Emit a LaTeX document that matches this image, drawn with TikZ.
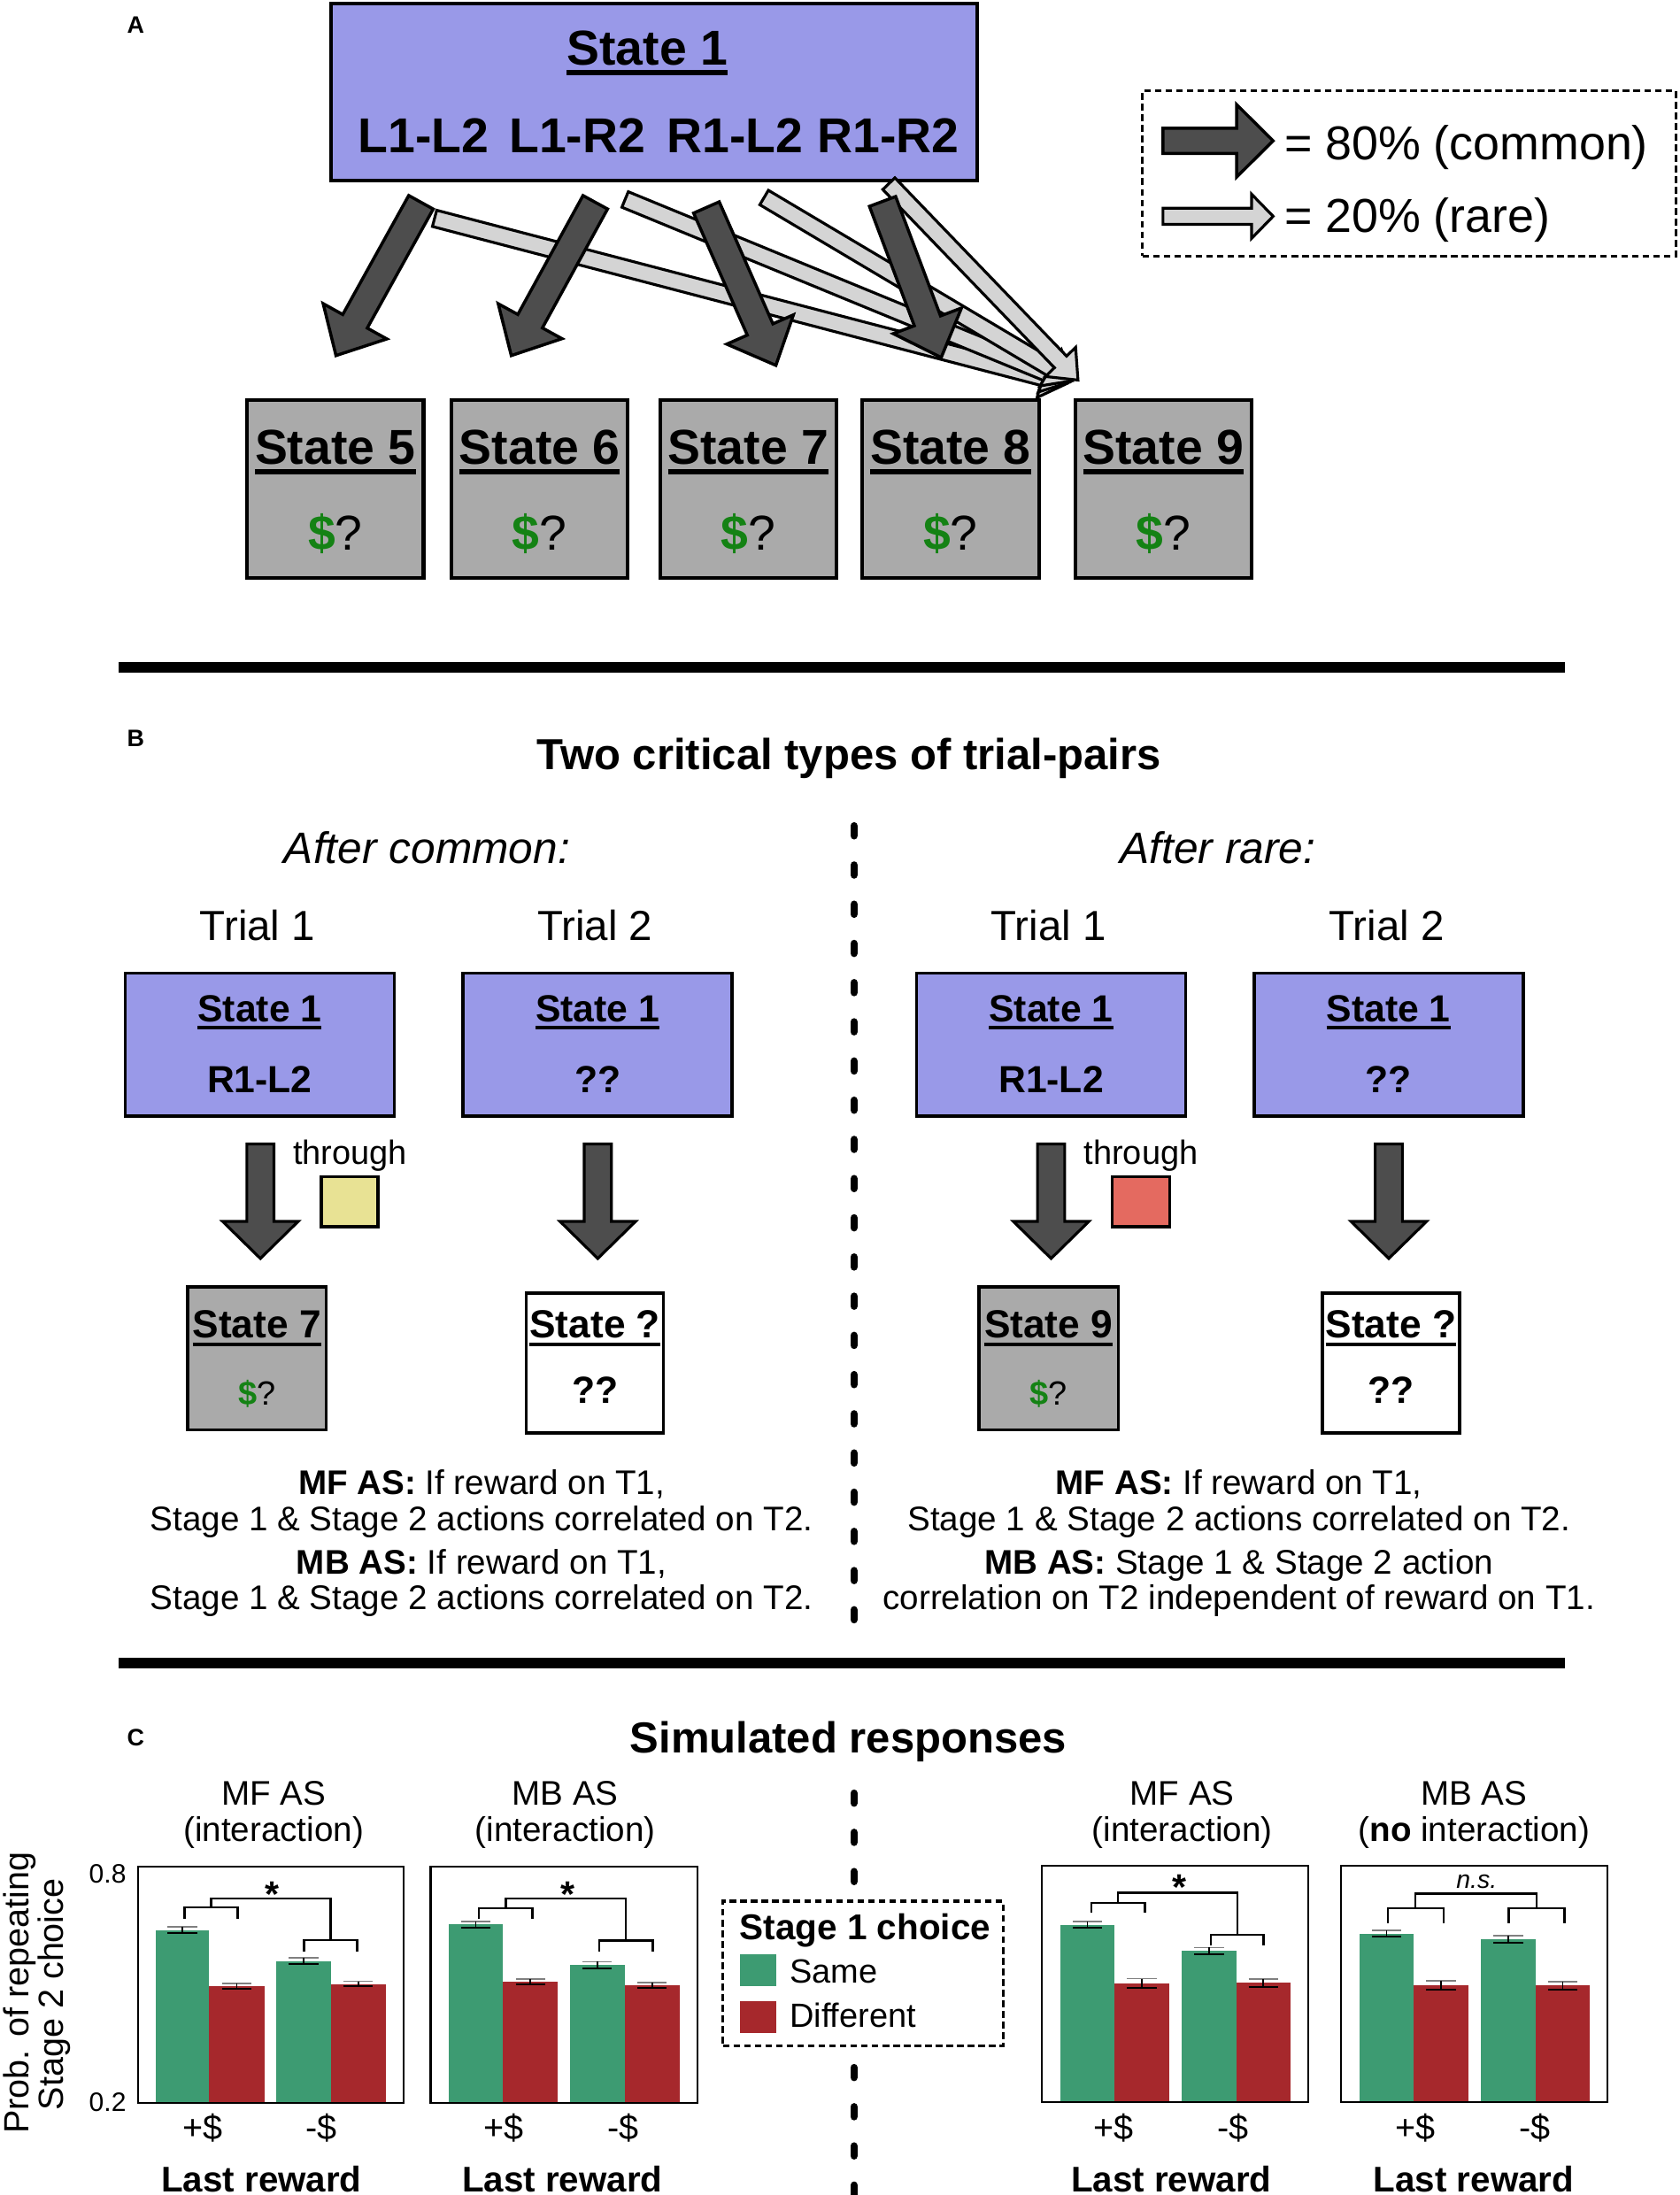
\documentclass[tikz,border=0pt]{standalone}
\usepackage{fontspec}
\setmainfont{Liberation Sans}
\usetikzlibrary{calc}
\definecolor{purp}{RGB}{153,153,232}
\definecolor{boxgray}{RGB}{170,170,170}
\definecolor{darkarr}{RGB}{77,77,77}
\definecolor{lightarr}{RGB}{212,212,212}
\definecolor{dollar}{RGB}{20,130,20}
\definecolor{ylw}{RGB}{232,226,148}
\definecolor{redsq}{RGB}{228,106,96}
\definecolor{bgreen}{RGB}{61,155,114}
\definecolor{bred}{RGB}{166,40,44}
\newcommand{\fsz}[1]{\fontsize{#1}{#1}\selectfont}
\newcommand{\tul}[1]{\setbox0=\hbox{#1}\leavevmode\rlap{\rule[-0.21em]{\wd0}{0.1em}}\box0}
\newcommand{\blkarrow}[6]{%
  \coordinate (bkn) at ($(#2)!#5!(#1)$);
  \draw[#6] ($(#1)!#3!90:(#2)$) -- ($(bkn)!#3!90:(#2)$) -- ($(bkn)!#4!90:(#2)$) -- (#2)
    -- ($(bkn)!#4!-90:(#2)$) -- ($(bkn)!#3!-90:(#2)$) -- ($(#1)!#3!-90:(#2)$) -- cycle;}
\newcommand{\cbar}[5]{%
  \fill[#5] (#1,1502) rectangle (#2,#3);
  \draw[line width=0.5pt, black!50] ({(#1+#2)/2-10.5},{#3-#4}) -- ({(#1+#2)/2+10.5},{#3-#4});
  \draw[line width=0.5pt] ({(#1+#2)/2},{#3-#4}) -- ({(#1+#2)/2},{#3+#4});
  \draw[line width=0.6pt] ({(#1+#2)/2-10.5},{#3+#4}) -- ({(#1+#2)/2+10.5},{#3+#4});}
\newcommand{\brk}[9]{%
  \draw[brline] (#1,#4) -- (#1,#3) -- (#2,#3) -- (#2,#4);
  \draw[brline] (#5,#8) -- (#5,#7) -- (#6,#7) -- (#6,#8);
  \draw[brline] ({(#1+#2)/2},#3) -- ({(#1+#2)/2},#9) -- ({(#5+#6)/2},#9) -- ({(#5+#6)/2},#7);}
\begin{document}
\begin{tikzpicture}[x=0.5pt,y=-0.5pt,
  lbl/.style={inner sep=0pt,anchor=base},
  pbox/.style={draw=black,fill=purp,inner sep=0pt},
  gbox/.style={draw=black,fill=boxgray,inner sep=0pt,line width=1.3pt},
  wbox/.style={draw=black,fill=white,inner sep=0pt,line width=1.1pt},
  darkA/.style={fill=darkarr,draw=black,line width=1.1pt},
  lightA/.style={fill=lightarr,draw=black,line width=1pt},
  dotbox/.style={draw=black,line width=1pt,dash pattern=on 2.4pt off 1.4pt,inner sep=0pt},
  thickline/.style={line width=3.8pt},
  vdash/.style={line width=2.7pt,line cap=round,dash pattern=on 3.5pt off 10.5pt},
  brline/.style={line width=0.75pt},
  frame/.style={draw=black,line width=0.65pt,inner sep=0pt,minimum height=84.5pt}]
\useasboundingbox (0,0) rectangle (1200,1568);
% ---------------- Panel A ----------------
\node[lbl,font=\bfseries\fsz{8.5}] (labA) at (97,24) {A};
\node[pbox,line width=1.3pt,minimum width=230.95pt,minimum height=63.35pt] (s1) at (467.15,65.65) {};
\node[lbl,font=\bfseries\fsz{17.5}] (s1t) at (462.3,46.4) {\tul{State 1}};
\node[lbl,font=\bfseries\fsz{17.5}] (a1) at (302.6,109) {L1-L2};
\node[lbl,font=\bfseries\fsz{17.5}] (a2) at (412.3,109) {L1-R2};
\node[lbl,font=\bfseries\fsz{17.5}] (a3) at (525.2,109) {R1-L2};
\node[lbl,font=\bfseries\fsz{17.5}] (a4) at (634.3,109) {R1-R2};
\foreach \n/\x in {5/239.5,6/385.5,7/534.5,8/679,9/831}{
  \node[gbox,minimum width=63pt,minimum height=63.5pt] (s\n) at (\x,349.1) {};
  \node[lbl,font=\bfseries\fsz{17.5}] (st\n) at (\x,331.4) {\tul{State \n}};
  \node[lbl,font=\fsz{17.5}] (sr\n) at (\x,392.8) {\textcolor{dollar}{\bfseries\$}?};
}
% arrows (rare first, then common)
\coordinate (r1s) at (310.4,156);   \coordinate (r1e) at (762,274);
\coordinate (r2s) at (446.5,142.5); \coordinate (r2e) at (764,273);
\coordinate (r3s) at (545.8,141.1); \coordinate (r3e) at (766,272);
\coordinate (r4s) at (634.9,131.2); \coordinate (r4e) at (770,271.5);
\coordinate (d1s) at (300.7,144.5); \coordinate (d1e) at (240,254);
\coordinate (d2s) at (425.2,144.5); \coordinate (d2e) at (365.2,254);
\coordinate (d3s) at (504.6,148.2); \coordinate (d3e) at (554.2,261);
\coordinate (d4s) at (630.4,143.9); \coordinate (d4e) at (672.3,255.4);
\blkarrow{r1s}{r1e}{3pt}{7.5pt}{9pt}{lightA}
\blkarrow{r2s}{r2e}{3pt}{7.5pt}{9pt}{lightA}
\blkarrow{r3s}{r3e}{3pt}{7.5pt}{9pt}{lightA}
\blkarrow{r4s}{r4e}{3pt}{7.5pt}{9pt}{lightA}
\blkarrow{d1s}{d1e}{5pt}{13pt}{14pt}{darkA}
\blkarrow{d2s}{d2e}{5pt}{13pt}{14pt}{darkA}
\blkarrow{d3s}{d3e}{5pt}{13pt}{14pt}{darkA}
\blkarrow{d4s}{d4e}{5pt}{13pt}{14pt}{darkA}
% legend
\node[dotbox,minimum width=190.5pt,minimum height=59pt] (legA) at (1006.5,124) {};
\coordinate (la1s) at (830.7,100.6); \coordinate (la1e) at (909.4,100.6);
\coordinate (la2s) at (830.7,154.5); \coordinate (la2e) at (909.4,154.5);
\blkarrow{la1s}{la1e}{4.5pt}{12.9pt}{13pt}{darkA}
\blkarrow{la2s}{la2e}{2.9pt}{7.9pt}{7.7pt}{lightA}
\node[lbl,anchor=base west,font=\fsz{17}] (lt1) at (917,113.9) {= 80\% (common)};
\node[lbl,anchor=base west,font=\fsz{17}] (lt2) at (917,166.1) {= 20\% (rare)};
% separator
\coordinate (h1a) at (85,477); \coordinate (h1b) at (1118,477);
\draw[thickline] (h1a) -- (h1b);
% ---------------- Panel B ----------------
\node[lbl,font=\bfseries\fsz{8.5}] (labB) at (97,533) {B};
\node[lbl,font=\bfseries\fsz{15.5}] (titB) at (606.5,550) {Two critical types of trial-pairs};
\coordinate (v1a) at (610,590); \coordinate (v1b) at (610,1160);
\draw[vdash] (v1a) -- (v1b);
\node[lbl,font=\itshape\fsz{15.7}] (ac) at (305,617) {After common:};
\node[lbl,font=\itshape\fsz{15.7}] (ar) at (870,617) {After rare:};
\node[lbl,font=\fsz{15}] (tr1) at (184,672) {Trial 1};
\node[lbl,font=\fsz{15}] (tr2) at (425,672) {Trial 2};
\node[lbl,font=\fsz{15}] (tr3) at (749,672) {Trial 1};
\node[lbl,font=\fsz{15}] (tr4) at (990.5,672) {Trial 2};
\foreach \nm/\x/\t in {b1/185.5/R1-L2,b2/426.85/??,b3/750.8/R1-L2,b4/991.85/??}{
  \node[pbox,line width=1.1pt,minimum width=96.1pt,minimum height=51pt] (\nm) at (\x,746.2) {};
  \node[lbl,font=\bfseries\fsz{13.5}] (\nm t) at (\x,729.7) {\tul{State 1}};
  \node[lbl,font=\bfseries\fsz{13.5}] (\nm a) at (\x,780.4) {\t};
}
\node[gbox,line width=1.1pt,minimum width=49.5pt,minimum height=51.1pt] (b7) at (183.5,970.4) {};
\node[lbl,font=\bfseries\fsz{14}] (b7t) at (183.5,955.8) {\tul{State 7}};
\node[lbl,font=\fsz{12}] (b7r) at (183.5,1004) {\textcolor{dollar}{\bfseries\$}?};
\node[wbox,minimum width=49pt,minimum height=50pt] (bq1) at (425,973.65) {};
\node[lbl,font=\bfseries\fsz{14}] (bq1t) at (425,955.8) {\tul{State ?}};
\node[lbl,font=\bfseries\fsz{13.5}] (bq1r) at (425,1002.7) {??};
\node[gbox,line width=1.1pt,minimum width=49.8pt,minimum height=51.1pt] (b9) at (749,970.4) {};
\node[lbl,font=\bfseries\fsz{14}] (b9t) at (749,955.8) {\tul{State 9}};
\node[lbl,font=\fsz{12}] (b9r) at (749,1004) {\textcolor{dollar}{\bfseries\$}?};
\node[wbox,minimum width=48.9pt,minimum height=50pt] (bq2) at (993.6,973.65) {};
\node[lbl,font=\bfseries\fsz{14}] (bq2t) at (993.6,955.8) {\tul{State ?}};
\node[lbl,font=\bfseries\fsz{13.5}] (bq2r) at (993.6,1002.7) {??};
% down arrows
\coordinate (p1s) at (186,817.2); \coordinate (p1e) at (186,899);
\coordinate (p2s) at (427,817.2); \coordinate (p2e) at (427,899);
\coordinate (p3s) at (750.8,817.2); \coordinate (p3e) at (750.8,899);
\coordinate (p4s) at (992,817.2); \coordinate (p4e) at (992,899);
\blkarrow{p1s}{p1e}{4.85pt}{13.5pt}{13.25pt}{darkA,line width=1pt}
\blkarrow{p2s}{p2e}{4.85pt}{13.5pt}{13.25pt}{darkA,line width=1pt}
\blkarrow{p3s}{p3e}{4.85pt}{13.5pt}{13.25pt}{darkA,line width=1pt}
\blkarrow{p4s}{p4e}{4.85pt}{13.5pt}{13.25pt}{darkA,line width=1pt}
\node[lbl,font=\fsz{12}] (th1) at (250.1,832) {through};
\node[lbl,font=\fsz{12}] (th2) at (815,832) {through};
\node[draw=black,line width=1pt,fill=ylw,inner sep=0pt,minimum width=20.25pt,minimum height=17.95pt] (sqy) at (249.75,858.35) {};
\node[draw=black,line width=1pt,fill=redsq,inner sep=0pt,minimum width=20.6pt,minimum height=17.95pt] (sqr) at (815.1,858.35) {};
% texts
\node[lbl,font=\fsz{12.2}] (tx1) at (344,1067.7) {\textbf{MF AS:} If reward on T1,};
\node[lbl,font=\fsz{12.2}] (tx2) at (344,1093.7) {Stage 1 \& Stage 2 actions correlated on T2.};
\node[lbl,font=\fsz{12.2}] (tx3) at (344,1124.7) {\textbf{MB AS:} If reward on T1,};
\node[lbl,font=\fsz{12.2}] (tx4) at (344,1149.7) {Stage 1 \& Stage 2 actions correlated on T2.};
\node[lbl,font=\fsz{12.2}] (tx5) at (885,1067.7) {\textbf{MF AS:} If reward on T1,};
\node[lbl,font=\fsz{12.2}] (tx6) at (885,1093.7) {Stage 1 \& Stage 2 actions correlated on T2.};
\node[lbl,font=\fsz{12.2}] (tx7) at (885,1124.7) {\textbf{MB AS:} Stage 1 \& Stage 2 action};
\node[lbl,font=\fsz{12.2}] (tx8) at (885,1149.7) {correlation on T2 independent of reward on T1.};
\coordinate (h2a) at (85,1188); \coordinate (h2b) at (1118,1188);
\draw[thickline] (h2a) -- (h2b);
% ---------------- Panel C ----------------
\node[lbl,font=\bfseries\fsz{8.5}] (labC) at (97,1247) {C};
\node[lbl,font=\bfseries\fsz{15.5}] (titC) at (606,1252) {Simulated responses};
\coordinate (v2a) at (610,1281); \coordinate (v2b) at (610,1575);
\draw[vdash] (v2a) -- (v2b);
% chart titles
\node[lbl,font=\fsz{12.2}] (c1a) at (195.4,1289.5) {MF AS};
\node[lbl,font=\fsz{12.2}] (c1b) at (195.4,1315.6) {(interaction)};
\node[lbl,font=\fsz{12.2}] (c2a) at (403.8,1289.5) {MB AS};
\node[lbl,font=\fsz{12.2}] (c2b) at (403.8,1315.6) {(interaction)};
\node[lbl,font=\fsz{12.2}] (c3a) at (844.4,1289.5) {MF AS};
\node[lbl,font=\fsz{12.2}] (c3b) at (844.4,1315.6) {(interaction)};
\node[lbl,font=\fsz{12.2}] (c4a) at (1052.8,1289.5) {MB AS};
\node[lbl,font=\fsz{12.2}] (c4b) at (1053,1315.6) {(\textbf{no} interaction)};
% y axis
\node[lbl,rotate=90,font=\fsz{12.5}] (ya1) at (20.5,1423.6) {Prob. of repeating};
\node[lbl,rotate=90,font=\fsz{12.5}] (ya2) at (45.5,1424.6) {Stage 2 choice};
\node[lbl,anchor=base east,font=\fsz{9.5}] (tk8) at (90.5,1345) {0.8};
\node[lbl,anchor=base east,font=\fsz{9.5}] (tk2) at (90.5,1508) {0.2};
% bars
\cbar{111.1}{149.4}{1378.7}{2.3}{bgreen}
\cbar{149.4}{188.9}{1418.7}{2}{bred}
\cbar{197.3}{236.4}{1400.8}{2.4}{bgreen}
\cbar{236.4}{275.5}{1417.2}{1.8}{bred}
\cbar{320.3}{359.3}{1374.8}{2.3}{bgreen}
\cbar{359.3}{398.4}{1415.7}{2}{bred}
\cbar{406.9}{446.3}{1403.8}{2.5}{bgreen}
\cbar{446.3}{485.4}{1418.3}{2}{bred}
\cbar{757.3}{796.3}{1375}{2.3}{bgreen}
\cbar{796.3}{835}{1416.6}{3.2}{bred}
\cbar{844.1}{883.1}{1393.7}{2.5}{bgreen}
\cbar{883.1}{921.7}{1416.4}{2.8}{bred}
\cbar{971}{1010}{1381.3}{2.3}{bgreen}
\cbar{1010}{1048.7}{1418.3}{3.2}{bred}
\cbar{1057.8}{1096.8}{1385.3}{2.4}{bgreen}
\cbar{1096.8}{1135.8}{1418.3}{2.8}{bred}
% frames
\node[frame,minimum width=94.8pt] (f1) at (193.3,1417.95) {};
\node[frame,minimum width=95.2pt] (f2) at (402.8,1417.95) {};
\node[frame,minimum width=95pt] (f3) at (839.3,1417.35) {};
\node[frame,minimum width=95.2pt] (f4) at (1053.2,1417.35) {};
% brackets
\brk{131.8}{169.7}{1362.6}{1370.8}{217.2}{255.1}{1386}{1394.2}{1356}
\brk{342.1}{380.4}{1363.1}{1370.8}{427.9}{466.2}{1386.2}{1394.2}{1356}
\brk{779.5}{817.8}{1359.3}{1366.6}{864.8}{902.6}{1382}{1389.7}{1352.1}
\brk{991.3}{1031}{1363.1}{1373.6}{1077.7}{1117.5}{1363.1}{1373.6}{1352.8}
\node[lbl,font=\bfseries\fsz{13}] (sg1) at (194.6,1362) {*};
\node[lbl,font=\bfseries\fsz{13}] (sg2) at (405.3,1362) {*};
\node[lbl,font=\bfseries\fsz{13}] (sg3) at (842.2,1357.3) {*};
\node[lbl,font=\itshape\fsz{9}] (sg4) at (1054.8,1348.6) {n.s.};
% x labels
\foreach \nm/\x/\t in {x1/144.6/+\$,x2/229.5/-\$,x3/360/+\$,x4/445.3/-\$,x5/795.6/+\$,x6/880.6/-\$,x7/1011.2/+\$,x8/1096.3/-\$}{
  \node[lbl,font=\fsz{12.5}] (\nm) at (\x,1528.2) {\t};
}
\node[lbl,font=\bfseries\fsz{12.75}] (lr1) at (186.8,1565.5) {Last reward};
\node[lbl,font=\bfseries\fsz{12.75}] (lr2) at (401.7,1565.5) {Last reward};
\node[lbl,font=\bfseries\fsz{12.75}] (lr3) at (836.7,1565.5) {Last reward};
\node[lbl,font=\bfseries\fsz{12.75}] (lr4) at (1052.7,1565.5) {Last reward};
% legend C
\node[dotbox,fill=white,line width=1.1pt,minimum width=100.1pt,minimum height=51.65pt] (legC) at (616.4,1409.85) {};
\node[lbl,font=\bfseries\fsz{12.8}] (lgt) at (618,1385.4) {Stage 1 choice};
\node[fill=bgreen,inner sep=0pt,minimum width=13.05pt,minimum height=11.3pt] (lgg) at (541.65,1407.5) {};
\node[fill=bred,inner sep=0pt,minimum width=13.05pt,minimum height=11.3pt] (lgr) at (541.65,1440.75) {};
\node[lbl,anchor=base west,font=\fsz{12}] (lgs) at (563.7,1416.4) {Same};
\node[lbl,anchor=base west,font=\fsz{12}] (lgd) at (563.7,1448.1) {Different};
\end{tikzpicture}
\end{document}
